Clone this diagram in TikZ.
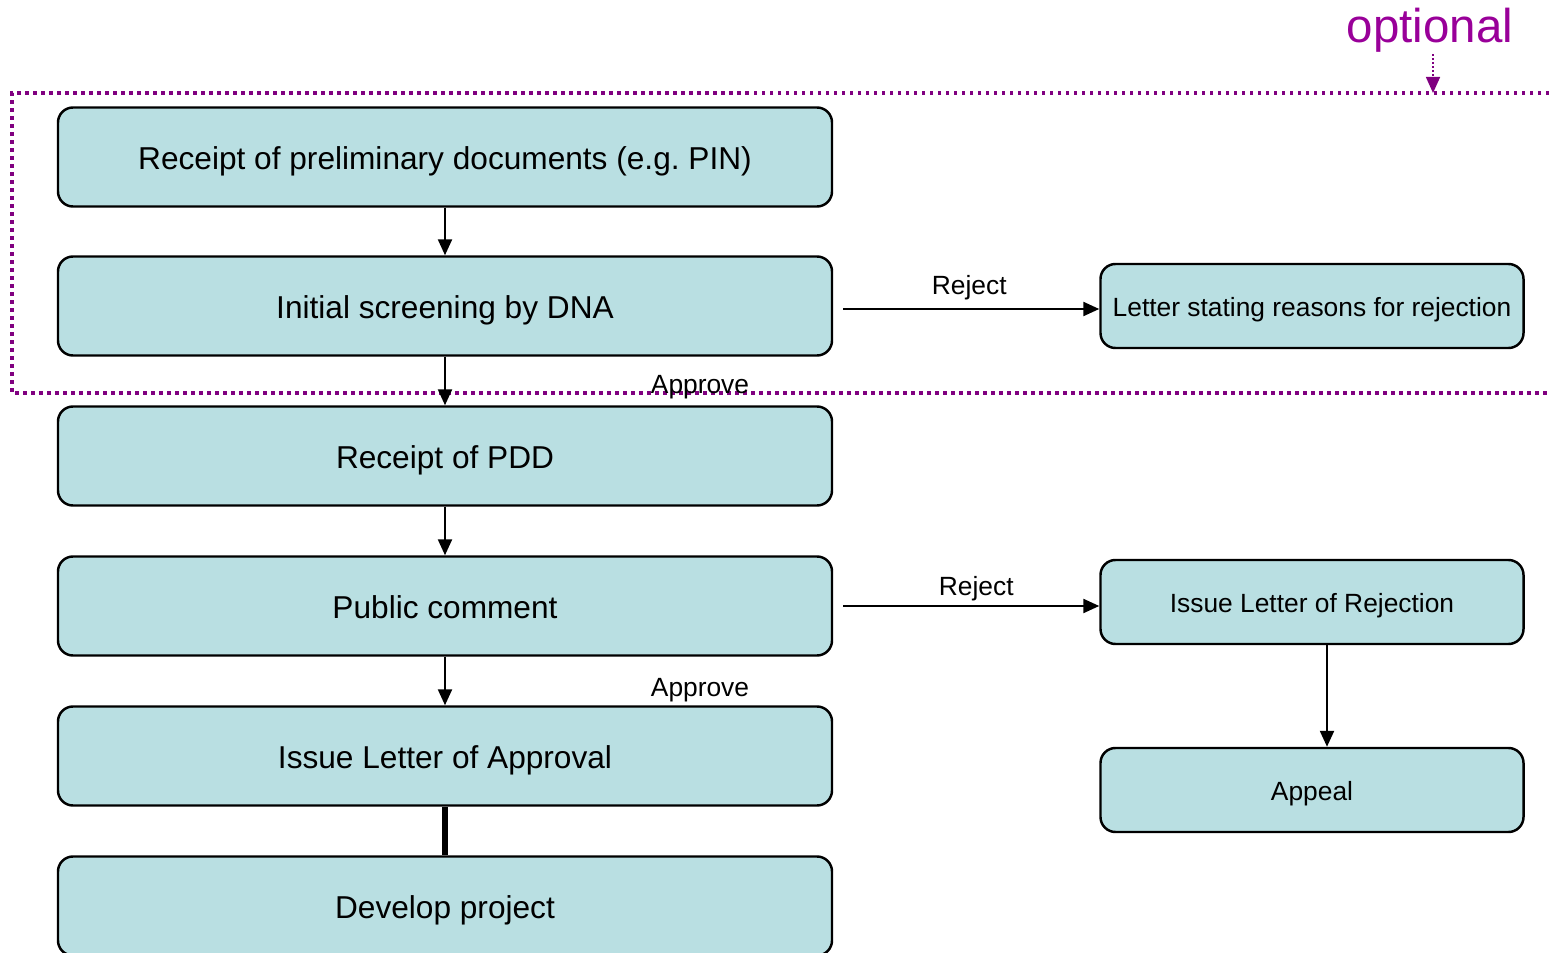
\documentclass[tikz,border=0pt]{standalone}
\usepackage{fontspec}
\setmainfont{Liberation Sans}
\usepackage{tikz}
\usetikzlibrary{
  arrows.meta,
  positioning
}
\definecolor{boxfill}{HTML}{B9DFE2}
\definecolor{optframe}{HTML}{800080}
\definecolor{optlabel}{HTML}{990099}
\tikzset{
  stage/.style={draw,line width=1.4pt,fill=boxfill,rounded corners=3mm,
    minimum width=154.8mm,minimum height=19.8mm,
    text height=6.3mm,text depth=1.3mm,font=\fontsize{18}{21}\selectfont},
  outcome/.style={stage,minimum width=84.6mm,minimum height=16.8mm,
    text height=5.45mm,text depth=1.1mm,font=\fontsize{15}{18}\selectfont},
  flow/.style={draw,line width=1.3pt,-{Triangle[length=3.2mm,width=2.8mm]}},
  verdict/.style={font=\fontsize{15}{18}\selectfont},
}

\begin{document}
\begin{tikzpicture}[x=0.2mm,y=-0.2mm]
\useasboundingbox (0,0) rectangle (1549,953);
% the optional part
\draw[optframe,line width=2.2pt,dash pattern=on 0.7mm off 0.9mm]
  (1549,93) -- (12,93) -- (12,393) -- (1549,393);
\node[optlabel,font=\fontsize{27}{30}\selectfont,inner sep=1pt] (opt) at (1430,30) {optional};
\coordinate (optend) at (1433,93);
\draw[optframe,line width=0.9pt,dash pattern=on 0.3mm off 0.5mm,-{Triangle[length=3.2mm,width=2.8mm]}]
  (opt.south -| optend) -- (optend);

\node[stage] (pin) at (445,157) {Receipt of preliminary documents (e.g.\ PIN)};
\node[stage] (dna) at (445,306) {Initial screening by DNA};
\node[stage] (pdd) at (445,456) {Receipt of PDD};
\node[stage] (pub) at (445,606) {Public comment};
\node[stage] (loa) at (445,756) {Issue Letter of Approval};
\node[stage] (dev) at (445,906) {Develop project};

\node[outcome] (why) at (1312,306) {Letter stating reasons for rejection};
\node[outcome] (lor) at (1312,602) {Issue Letter of Rejection};
\node[outcome] (app) at (1312,790) {Appeal};

\draw[flow] (pin) -- (dna);
\draw[flow] (dna) -- (pdd);
\draw[flow] (pdd) -- (pub);
\draw[flow] (pub) -- (loa);
\draw[line width=3.2pt] (loa) -- (dev);

\draw[flow] ([xshift=2mm,yshift=-0.6mm]dna.east) -- node[verdict,above=1pt,xshift=-0.4mm] (no1) {Reject}
  ([yshift=-0.6mm]dna.east -| why.west);
\draw[flow] ([xshift=2mm]pub.east) -- node[verdict,above=-1pt,xshift=1mm] (no2) {Reject}
  (pub.east -| lor.west);
\draw[flow] ([xshift=3mm]lor.south) -- ([xshift=3mm]app.north);

\node[verdict] (ok1) at (700,387) {Approve};
\node[verdict] (ok2) at (700,690) {Approve};
\end{tikzpicture}
\end{document}
